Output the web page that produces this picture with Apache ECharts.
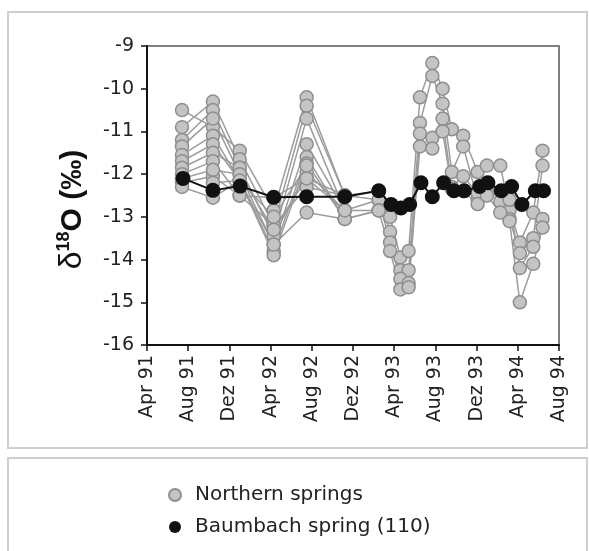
<!DOCTYPE html>
<html>
<head>
<meta charset="utf-8">
<script src="https://cdn.jsdelivr.net/npm/echarts@6/dist/echarts.min.js"></script>
<style>
  html, body { margin: 0; padding: 0; background: #fff; }
  #main { width: 589px; height: 551px; }
</style>
</head>
<body>
<div id="main"></div>
<script>
// x = months since Apr 1991
const tickLabels = ['Apr 91', 'Aug 91', 'Dez 91', 'Apr 92', 'Aug 92', 'Dez 92', 'Apr 93', 'Aug 93', 'Dez 93', 'Apr 94', 'Aug 94'];

// northern springs, one list per spring: [month, delta18O]
const spring1 = [[3.4, -10.5], [6.4, -10.9], [9.0, -11.45], [12.3, -12.85], [15.5, -10.2], [19.2, -12.5], [22.5, -12.4],
  [23.6, -13.0], [24.6, -13.95], [25.4, -13.8], [26.5, -10.2], [27.7, -9.4], [28.7, -10.0], [29.6, -10.95], [30.7, -11.1],
  [32.1, -11.95], [33.0, -11.8], [34.3, -11.8], [35.2, -12.85], [36.2, -13.6], [37.5, -12.9], [38.4, -11.45]];
const spring2 = [[3.4, -10.9], [6.4, -10.3], [9.0, -11.65], [12.3, -13.2], [15.5, -10.4], [19.2, -12.5], [22.5, -12.6],
  [23.6, -13.35], [24.6, -14.25], [25.4, -14.25], [26.5, -10.8], [27.7, -9.7], [28.7, -10.35], [29.6, -11.95], [30.7, -11.35],
  [32.1, -12.6], [33.0, -12.2], [34.3, -12.4], [35.2, -13.05], [36.2, -13.85], [37.5, -13.5], [38.4, -11.8]];
const spring3 = [[3.4, -11.2], [6.4, -10.5], [9.0, -11.85], [12.3, -13.45], [15.5, -10.7], [19.2, -12.85], [22.5, -12.6],
  [23.6, -13.6], [24.6, -14.45], [25.4, -14.55], [26.5, -11.05], [27.7, -11.15], [28.7, -10.7], [29.6, -12.3], [30.7, -12.05],
  [32.1, -12.45], [33.0, -12.4], [34.3, -12.65], [35.2, -12.6], [36.2, -14.2], [37.5, -13.7], [38.4, -13.05]];
const spring4 = [[3.4, -11.35], [6.4, -10.7], [9.0, -12.0], [12.3, -13.65], [15.5, -11.3], [19.2, -12.85], [22.5, -12.85],
  [23.6, -13.8], [24.6, -14.7], [25.4, -14.65], [26.5, -11.35], [27.7, -11.4], [28.7, -11.0], [29.6, -12.35], [30.7, -12.4],
  [32.1, -12.7], [33.0, -12.5], [34.3, -12.9], [35.2, -13.1], [36.2, -15.0], [37.5, -14.1], [38.4, -13.25]];
const spring5 = [[3.4, -11.55], [6.4, -11.1], [9.0, -12.15], [12.3, -13.8], [15.5, -11.6], [19.2, -13.05], [22.5, -12.85]];
const spring6 = [[3.4, -11.7], [6.4, -11.3], [9.0, -12.15], [12.3, -13.9], [15.5, -11.75], [19.2, -13.05], [22.5, -12.85]];
const spring7 = [[3.4, -11.85], [6.4, -11.5], [9.0, -11.85], [12.3, -13.45], [15.5, -11.95], [19.2, -12.85]];
const spring8 = [[3.4, -12.0], [6.4, -11.7], [9.0, -12.5], [12.3, -12.55], [15.5, -12.1], [19.2, -12.5]];
const spring9 = [[3.4, -12.2], [6.4, -12.05], [9.0, -12.5], [12.3, -13.2], [15.5, -12.3], [19.2, -12.5]];
const spring10 = [[3.4, -12.3], [6.4, -12.55], [9.0, -12.15], [12.3, -13.65], [15.5, -12.9], [19.2, -13.05]];
const spring11 = [[3.4, -12.1], [6.4, -11.9], [9.0, -12.0], [12.3, -13.3], [15.5, -12.1], [19.2, -12.85]];
const spring12 = [[6.4, -12.2], [9.0, -12.15], [12.3, -13.0], [15.5, -11.8]];

// Baumbach spring (110)
const baumbach = [[3.5, -12.1], [6.4, -12.38], [9.05, -12.28], [12.3, -12.54], [15.5, -12.53], [19.2, -12.53], [22.5, -12.39],
  [23.7, -12.71], [24.65, -12.79], [25.5, -12.71], [26.6, -12.2], [27.7, -12.53], [28.8, -12.2], [29.8, -12.39], [30.8, -12.39],
  [32.3, -12.29], [33.1, -12.2], [34.4, -12.39], [35.4, -12.29], [36.4, -12.71], [37.7, -12.39], [38.5, -12.39]];

const northern = [spring1, spring2, spring3, spring4, spring5, spring6, spring7, spring8, spring9, spring10, spring11, spring12];

const font = '"DejaVu Sans", Verdana, sans-serif';
const titleFont = '"Liberation Sans", Arial, sans-serif';

const series = northern.map(d => ({
  name: 'Northern springs',
  type: 'line',
  data: d,
  symbol: 'circle',
  symbolSize: 13,
  itemStyle: { color: '#c4c4c4', borderColor: '#8e8e8e', borderWidth: 1.5 },
  lineStyle: { color: '#9c9c9c', width: 1.5 },
  z: 2
}));
series.push({
  name: 'Baumbach spring (110)',
  type: 'line',
  data: baumbach,
  symbol: 'circle',
  symbolSize: 15,
  itemStyle: { color: '#111' },
  lineStyle: { color: '#111', width: 2 },
  z: 5
});

const chart = echarts.init(document.getElementById('main'));
chart.setOption({
  animation: false,
  backgroundColor: '#fff',
  graphic: [
    { type: 'rect', shape: { x: 8, y: 12, width: 579, height: 436 }, style: { fill: 'none', stroke: '#cfcfcf', lineWidth: 2 }, z: -10 },
    { type: 'rect', shape: { x: 8, y: 458, width: 579, height: 100 }, style: { fill: 'none', stroke: '#cfcfcf', lineWidth: 2 }, z: -10 }
  ],
  grid: { left: 147, right: 30, top: 46, bottom: 206, show: true, borderColor: '#808080', borderWidth: 2, backgroundColor: 'transparent' },
  legend: {
    orient: 'vertical',
    left: 163,
    top: 480,
    itemGap: 12,
    itemWidth: 12,
    itemHeight: 12,
    icon: 'circle',
    data: ['Northern springs', 'Baumbach spring (110)'],
    textStyle: { fontFamily: font, fontSize: 20, color: '#222', padding: [0, 0, 0, 9] }
  },
  xAxis: {
    type: 'value',
    min: 0,
    max: 40,
    interval: 4,
    axisLine: { show: true, lineStyle: { color: '#111', width: 2 } },
    axisTick: { show: true, inside: false, length: 6, lineStyle: { color: '#111', width: 1.5 } },
    splitLine: { show: false },
    axisLabel: {
      rotate: 90,
      margin: 10,
      fontFamily: font,
      fontSize: 19,
      color: '#222',
      formatter: v => tickLabels[Math.round(v / 4)]
    }
  },
  yAxis: {
    type: 'value',
    min: -16,
    max: -9,
    interval: 1,
    axisLine: { show: true, lineStyle: { color: '#111', width: 2 } },
    axisTick: { show: true, inside: false, length: 6, lineStyle: { color: '#111', width: 1.5 } },
    splitLine: { show: false },
    axisLabel: { margin: 13, fontFamily: font, fontSize: 19, color: '#222' },
    name: '{d|δ}{s|18}{b|O (‰)}',
    nameLocation: 'middle',
    nameRotate: 90,
    nameGap: 57,
    nameTextStyle: {
      padding: [0, 28, 0, 0],
      rich: {
        d: { fontFamily: titleFont, fontSize: 32, color: '#111' },
        s: { fontFamily: titleFont, fontSize: 18, fontWeight: 'bold', color: '#111', padding: [0, 0, 17, 0] },
        b: { fontFamily: titleFont, fontSize: 30, fontWeight: 'bold', color: '#111' }
      }
    }
  },
  series: series
});
</script>
</body>
</html>
